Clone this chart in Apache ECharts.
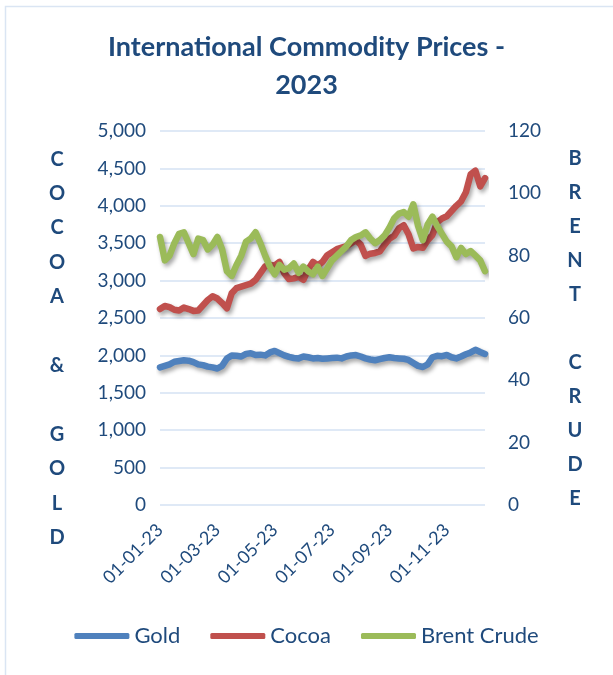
<!DOCTYPE html>
<html>
<head>
<meta charset="utf-8">
<title>International Commodity Prices - 2023</title>
<script src="https://cdn.jsdelivr.net/npm/echarts@6/dist/echarts.min.js"></script>
<style>
	html, body { margin:0; padding:0; background:#fff; }
	#chart { width:613px; height:675px; }
</style>
</head>
<body>
<div id="chart"></div>
<script>
// dates (dd-mm-yy), roughly every 5 days
var dates = [
	"01-01-23","06-01-23","11-01-23","16-01-23","21-01-23","26-01-23",
	"01-02-23","06-02-23","11-02-23","16-02-23","21-02-23","26-02-23",
	"01-03-23","06-03-23","11-03-23","16-03-23","21-03-23","26-03-23",
	"01-04-23","06-04-23","11-04-23","16-04-23","21-04-23","26-04-23",
	"01-05-23","06-05-23","11-05-23","16-05-23","21-05-23","26-05-23",
	"01-06-23","06-06-23","11-06-23","16-06-23","21-06-23","26-06-23",
	"01-07-23","06-07-23","11-07-23","16-07-23","21-07-23","26-07-23",
	"01-08-23","06-08-23","11-08-23","16-08-23","21-08-23","26-08-23",
	"01-09-23","06-09-23","11-09-23","16-09-23","21-09-23","26-09-23",
	"01-10-23","06-10-23","11-10-23","16-10-23","21-10-23","26-10-23",
	"01-11-23","06-11-23","11-11-23","16-11-23","21-11-23","26-11-23",
	"01-12-23","06-12-23","11-12-23"
];

// gold (left axis)
var gold = [
	1840,1860,1880,1915,1925,1935,
	1930,1910,1880,1870,1850,1840,
	1825,1860,1960,2000,1995,1985,
	2020,2030,2005,2010,2000,2040,
	2060,2030,2000,1980,1965,1960,
	1985,1975,1960,1965,1955,1960,
	1965,1970,1960,1985,2000,2005,
	1985,1960,1945,1935,1950,1965,
	1975,1965,1960,1955,1940,1900,
	1860,1845,1880,1975,1995,1990,
	2005,1975,1960,1985,2015,2040,
	2075,2045,2020
];

// cocoa (left axis)
var cocoa = [
	2620,2660,2645,2610,2600,2640,
	2620,2595,2600,2670,2740,2790,
	2760,2700,2630,2830,2900,2920,
	2940,2960,3010,3100,3190,3210,
	3200,3250,3100,3020,3030,3050,
	3010,3150,3250,3200,3250,3340,
	3380,3420,3440,3460,3500,3540,
	3480,3330,3360,3370,3390,3480,
	3560,3600,3700,3740,3620,3430,
	3450,3440,3540,3610,3780,3830,
	3860,3930,4000,4060,4180,4420,
	4470,4260,4370
];

// brent crude (right axis)
var brent = [
	86,78.5,80,84,87,87.5,
	84,80.5,85.5,85,82,83.5,
	86,82,75,73.5,77,80,
	84.5,85.5,87.5,84,80,76.5,
	74,77,75.5,76,77.5,74.5,
	76.5,75,74,76.5,73.5,76,
	78.5,80,81.5,83,85,86,
	86.5,87.5,85.5,84,85,86.5,
	89,92,93.5,94,92.5,96.5,
	89.5,85,90,92.5,89.5,87,
	84.5,83,79.5,82.5,80.5,81.5,
	80,78.5,75
];

var leftTicks = [0,500,1000,1500,2000,2500,3000,3500,4000,4500,5000];
var rightTicks = [0,20,40,60,80,100,120];

var txtColor = '#1F4A7C';
var font = 'Lato';

function makeSeries(name, data, color, axisIndex) {
	return {
		name: name,
		type: 'line',
		yAxisIndex: axisIndex,
		data: data,
		symbol: 'none',
		smooth: false,
		lineStyle: {
			width: 6.5,
			color: color,
			cap: 'round',
			join: 'round',
			shadowColor: 'rgba(0,0,0,0.35)',
			shadowBlur: 4,
			shadowOffsetX: 2,
			shadowOffsetY: 3
		},
		itemStyle: { color: color }
	};
}

var myChart = echarts.init(document.getElementById('chart'));

var option = {
	animation: false,
	title: {
		text: 'International Commodity Prices -\n2023',
		left: 'center',
		top: 23,
		textStyle: {
			color: txtColor,
			fontFamily: font,
			fontWeight: 'bold',
			fontSize: 27,
			lineHeight: 38
		}
	},
	legend: {
		bottom: 23,
		left: 'center',
		icon: 'roundRect',
		itemWidth: 55,
		itemHeight: 6,
		itemGap: 30,
		textStyle: { color: txtColor, fontFamily: font, fontSize: 22 },
		data: ['Gold','Cocoa','Brent Crude']
	},
	grid: { left: 160, right: 128, top: 131, bottom: 170 },
	xAxis: {
		type: 'category',
		data: dates,
		boundaryGap: false,
		axisLine: { show: false },
		axisTick: { show: false },
		axisLabel: {
			rotate: 45,
			margin: 22,
			color: txtColor,
			fontFamily: font,
			fontSize: 18,
			interval: function(index) { return index % 12 === 0; }
		}
	},
	yAxis: [
		{
			type: 'value',
			min: leftTicks[0],
			max: leftTicks[leftTicks.length-1],
			interval: 500,
			axisLine: { show: false },
			axisTick: { show: false },
			axisLabel: {
				color: txtColor,
				fontFamily: font,
				fontSize: 19,
				margin: 14,
				formatter: function(v) { return v.toLocaleString('en-US'); }
			},
			splitLine: { lineStyle: { color: '#D5E2F3', width: 1.5 } }
		},
		{
			type: 'value',
			min: rightTicks[0],
			max: rightTicks[rightTicks.length-1],
			interval: 20,
			axisLine: { show: false },
			axisTick: { show: false },
			axisLabel: { color: txtColor, fontFamily: font, fontSize: 19, margin: 23 },
			splitLine: { show: false }
		}
	],
	// vertical axis titles + frame
	graphic: [
		{
			type: 'rect',
			shape: { x: 5.5, y: 6.5, width: 640, height: 700 },
			style: { fill: 'none', stroke: '#DAE5F3', lineWidth: 1.5 },
			silent: true
		},
		{
			type: 'text',
			left: 47,
			top: 142,
			style: {
				text: 'C\nO\nC\nO\nA\n \n&\n \nG\nO\nL\nD',
				fill: txtColor,
				font: 'bold 20px ' + font,
				lineHeight: 34.4,
				textAlign: 'center',
				width: 20
			}
		},
		{
			type: 'text',
			left: 565,
			top: 142,
			style: {
				text: 'B\nR\nE\nN\nT\n \nC\nR\nU\nD\nE',
				fill: txtColor,
				font: 'bold 20px ' + font,
				lineHeight: 34,
				textAlign: 'center',
				width: 20
			}
		}
	],
	series: [
		makeSeries('Gold', gold, '#4F81BD', 0),
		makeSeries('Cocoa', cocoa, '#C0504D', 0),
		makeSeries('Brent Crude', brent, '#9BBB59', 1)
	]
};
myChart.setOption(option);
</script>
</body>
</html>
